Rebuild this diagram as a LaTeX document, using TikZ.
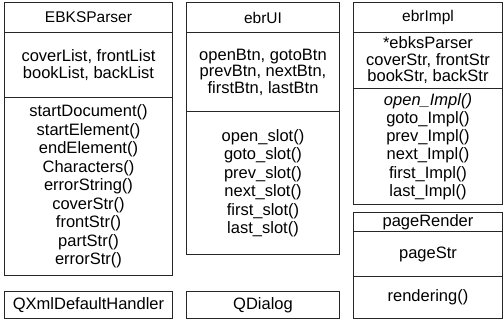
\documentclass[tikz,border=0pt]{standalone}
\usepackage{fontspec}
\setmainfont{Liberation Sans}
\begin{document}
\begin{tikzpicture}[x=1pt,y=-1pt,
  comp/.style={draw=black!85, line width=1pt, rectangle, inner sep=0pt, align=center, anchor=north west, text=black},
  title/.style={comp, font=\fontsize{15.5}{17}\selectfont},
  base/.style={comp, font=\fontsize{16.5}{17}\selectfont},
  attr/.style={comp, font=\fontsize{16.5}{16.5}\selectfont},
  meth/.style={comp, font=\fontsize{16.5}{18.5}\selectfont}]
\useasboundingbox (0,0) rectangle (504,320);
% EBKSParser
\node[title, minimum width=168pt, minimum height=30pt] (pt) at (4,2) {EBKSParser};
\node[attr, minimum width=168pt, minimum height=65pt] (pa) at (4,32) {coverList, frontList\\bookList, backList};
\node[meth, minimum width=168pt, minimum height=178pt] (pm) at (4,97) {startDocument()\\startElement()\\endElement()\\Characters()\\errorString()\\coverStr()\\frontStr()\\partStr()\\errorStr()};
\node[base, minimum width=168pt, minimum height=27pt] (qx) at (4,291) {QXmlDefaultHandler};
% ebrUI
\node[title, minimum width=153pt, minimum height=30pt] (ut) at (186,2) {ebrUI};
\node[attr, minimum width=153pt, minimum height=79pt] (ua) at (186,32) {openBtn, gotoBtn\\prevBtn, nextBtn,\\firstBtn, lastBtn};
\node[meth, minimum width=153pt, minimum height=143pt] (um) at (186,111) {open\_slot()\\goto\_slot()\\prev\_slot()\\next\_slot()\\first\_slot()\\last\_slot()};
\node[base, minimum width=153pt, minimum height=27pt] (qd) at (186,291) {QDialog};
% ebrImpl
\node[title, minimum width=149pt, minimum height=30pt] (it) at (353,2) {ebrImpl};
\node[attr, minimum width=149pt, minimum height=56pt] (ia) at (353,32) {*ebksParser\\coverStr, frontStr\\bookStr, backStr};
\node[meth, minimum width=149pt, minimum height=116pt, font=\fontsize{16.5}{18.2}\selectfont] (im) at (353,88) {\textit{open\_Impl()}\\goto\_Impl()\\prev\_Impl()\\next\_Impl()\\first\_Impl()\\last\_Impl()};
% pageRender
\node[base, minimum width=149pt, minimum height=19pt] (rt) at (353,212) {pageRender};
\node[base, minimum width=149pt, minimum height=45pt] (ra) at (353,231) {pageStr};
\node[base, minimum width=149pt, minimum height=42pt] (rm) at (353,276) {rendering()};
\end{tikzpicture}
\end{document}
